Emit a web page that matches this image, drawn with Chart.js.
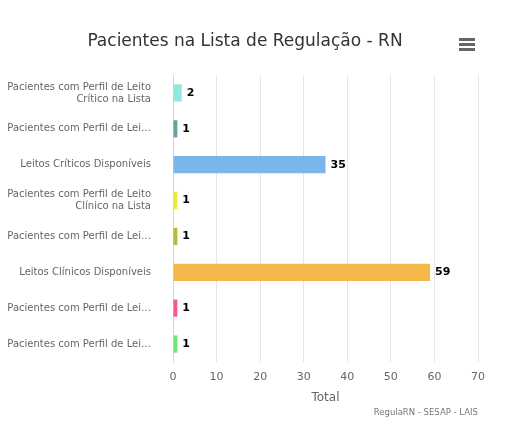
<!DOCTYPE html>
<html><head><meta charset="utf-8">
<script src="https://cdn.jsdelivr.net/npm/chart.js@4"></script>
<style>
html,body{margin:0;padding:0;background:#fff;overflow:hidden}
#wrap{position:relative;width:513px;height:443px}
#title{position:absolute;left:0;width:490px;top:30px;text-align:center;font:17px "DejaVu Sans",sans-serif;color:#333}
#menu{position:absolute;left:459px;top:38px;width:16px}
#menu div{height:3px;background:#666;margin-bottom:2px}
#credit{position:absolute;right:35px;top:407px;font:8.5px "DejaVu Sans",sans-serif;color:#777}
</style></head><body>
<div id="wrap">
<canvas id="c" width="513" height="443"></canvas>
<div id="title">Pacientes na Lista de Regulação - RN</div>
<div id="menu"><div></div><div></div><div></div></div>
<div id="credit">RegulaRN - SESAP - LAIS</div>
</div>
<script>
const categories=[["Pacientes com Perfil de Leito","Crítico na Lista"],"Pacientes com Perfil de Lei…","Leitos Críticos Disponíveis",["Pacientes com Perfil de Leito","Clínico na Lista"],"Pacientes com Perfil de Lei…","Leitos Clínicos Disponíveis","Pacientes com Perfil de Lei…","Pacientes com Perfil de Lei…"];
const values=[2,1,35,1,1,59,1,1];
const colors=["#91e8e1","#6b9ea6","#7cb5ec","#e4ed3b","#b9b93a","#f7b84b","#f15c80","#64ec6e"];
const xTicks=[0,10,20,30,40,50,60,70];
const labelPlugin={id:'lbl',afterDatasetsDraw(ch){const ctx=ch.ctx;const m=ch.getDatasetMeta(0);ctx.save();ctx.font='bold 11px "DejaVu Sans",sans-serif';ctx.fillStyle='#000';ctx.textBaseline='middle';m.data.forEach((b,i)=>{ctx.fillText(values[i],b.x+5,b.y);});ctx.restore();}};
new Chart(document.getElementById('c'),{type:'bar',
data:{labels:categories,datasets:[{data:values,backgroundColor:colors,barPercentage:0.48,categoryPercentage:1}]},
options:{indexAxis:'y',responsive:false,animation:false,
layout:{padding:{top:75,right:35,left:0,bottom:0}},
plugins:{legend:{display:false},tooltip:{enabled:false}},
scales:{
x:{min:0,max:70,afterBuildTicks(a){a.ticks=xTicks.map(v=>({value:v}));},afterFit(a){a.height=81;},
grid:{color:'#e6e6e6',drawTicks:false},border:{display:false},
ticks:{color:'#666',font:{family:'DejaVu Sans',size:11},padding:9},
title:{display:true,text:'Total',color:'#666',font:{family:'DejaVu Sans',size:12},padding:{top:2,bottom:38}}},
y:{afterFit(a){a.width=173;},grid:{display:false},border:{color:'#ccd6eb'},
ticks:{color:'#666',font:{family:'DejaVu Sans',size:10},padding:14}}}},
plugins:[labelPlugin]});
</script></body></html>
